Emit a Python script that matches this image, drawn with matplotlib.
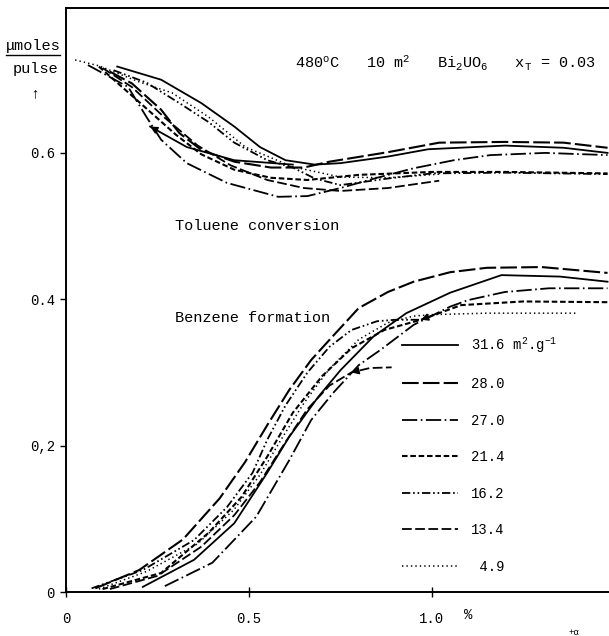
import matplotlib.pyplot as plt
from matplotlib.lines import Line2D

plt.rcParams['font.family'] = ['Liberation Mono', 'DejaVu Sans Mono']
plt.rcParams['mathtext.fontset'] = 'custom'
plt.rcParams['mathtext.rm'] = 'Liberation Mono'
plt.rcParams['mathtext.it'] = 'Liberation Mono'
plt.rcParams['lines.scale_dashes'] = False

# specific surface areas (m2/g) of the catalysts
labels = ["31.6 m$^\\mathregular{2}$.g$^\\mathregular{-1}$", "28.0", "27.0",
          "21.4", "16.2", "13.4", " 4.9"]

# toluene conversion, umoles/pulse vs alpha (%)
tol_x_316 = [0.14, 0.26, 0.37, 0.46, 0.53, 0.60, 0.68, 0.75, 0.88, 0.99, 1.20, 1.36, 1.48]
tol_y_316 = [0.718, 0.700, 0.668, 0.636, 0.608, 0.590, 0.584, 0.586, 0.595, 0.605, 0.610, 0.607, 0.600]
tol_x_316b = [0.23, 0.33, 0.46, 0.62]
tol_y_316b = [0.636, 0.608, 0.590, 0.584]
tol_x_280 = [0.12, 0.18, 0.26, 0.31, 0.37, 0.46, 0.56, 0.65, 0.72, 0.88, 1.02, 1.20, 1.36, 1.48]
tol_y_280 = [0.711, 0.695, 0.659, 0.627, 0.604, 0.588, 0.580, 0.580, 0.588, 0.601, 0.614, 0.615, 0.614, 0.607]
tol_x_270 = [0.06, 0.17, 0.22, 0.26, 0.33, 0.44, 0.58, 0.66, 0.75, 0.85, 0.95, 1.06, 1.16, 1.31, 1.48]
tol_y_270 = [0.720, 0.690, 0.649, 0.618, 0.586, 0.559, 0.540, 0.541, 0.552, 0.566, 0.579, 0.590, 0.597, 0.600, 0.597]
tol_x_214 = [0.09, 0.21, 0.30, 0.37, 0.46, 0.56, 0.66, 0.80, 1.00, 1.20, 1.48]
tol_y_214 = [0.718, 0.665, 0.625, 0.598, 0.577, 0.566, 0.563, 0.570, 0.574, 0.574, 0.572]
tol_x_162 = [0.13, 0.22, 0.31, 0.39, 0.46, 0.55, 0.62, 0.68, 0.75, 0.88, 1.00, 1.20, 1.48]
tol_y_162 = [0.713, 0.696, 0.668, 0.642, 0.614, 0.590, 0.580, 0.565, 0.556, 0.565, 0.572, 0.573, 0.571]
tol_x_134 = [0.10, 0.18, 0.27, 0.36, 0.45, 0.55, 0.65, 0.75, 0.88, 1.02]
tol_y_134 = [0.716, 0.690, 0.648, 0.610, 0.583, 0.563, 0.552, 0.548, 0.552, 0.562]
tol_x_49 = [0.025, 0.09, 0.20, 0.29, 0.39, 0.49, 0.62, 0.75, 0.88, 1.02]
tol_y_49 = [0.727, 0.719, 0.697, 0.682, 0.649, 0.608, 0.581, 0.567, 0.566, 0.571]

# benzene formation, umoles/pulse vs alpha (%)
ben_x_316 = [0.21, 0.35, 0.46, 0.55, 0.61, 0.69, 0.75, 0.84, 0.93, 1.05, 1.19, 1.35, 1.48]
ben_y_316 = [0.007, 0.044, 0.094, 0.163, 0.212, 0.267, 0.303, 0.349, 0.381, 0.409, 0.433, 0.431, 0.424]
ben_x_280 = [0.08, 0.20, 0.32, 0.42, 0.49, 0.55, 0.61, 0.67, 0.73, 0.80, 0.88, 0.95, 1.05, 1.15, 1.30, 1.48]
ben_y_280 = [0.005, 0.030, 0.072, 0.128, 0.178, 0.228, 0.276, 0.317, 0.350, 0.388, 0.410, 0.424, 0.437, 0.443, 0.444, 0.436]
ben_x_270 = [0.27, 0.40, 0.52, 0.61, 0.67, 0.73, 0.80, 0.86, 0.95, 1.05, 1.10, 1.20, 1.32, 1.48]
ben_y_270 = [0.008, 0.040, 0.103, 0.180, 0.235, 0.272, 0.310, 0.331, 0.365, 0.390, 0.399, 0.410, 0.415, 0.415]
ben_x_214 = [0.10, 0.26, 0.39, 0.48, 0.55, 0.62, 0.70, 0.78, 0.87, 0.97, 1.08, 1.25, 1.48]
ben_y_214 = [0.004, 0.026, 0.081, 0.130, 0.185, 0.245, 0.295, 0.333, 0.358, 0.372, 0.392, 0.397, 0.396]
ben_x_162 = [0.07, 0.21, 0.35, 0.44, 0.51, 0.55, 0.60, 0.66, 0.72, 0.78, 0.85, 0.90, 0.975]
ben_y_162 = [0.005, 0.030, 0.071, 0.116, 0.163, 0.208, 0.255, 0.300, 0.335, 0.358, 0.370, 0.372, 0.372]
ben_x_134 = [0.12, 0.25, 0.37, 0.46, 0.53, 0.60, 0.66, 0.72, 0.78, 0.83, 0.89]
ben_y_134 = [0.004, 0.022, 0.062, 0.105, 0.150, 0.205, 0.250, 0.282, 0.300, 0.306, 0.307]
ben_x_49 = [0.09, 0.22, 0.36, 0.46, 0.53, 0.59, 0.65, 0.72, 0.80, 0.88, 0.95, 1.00, 1.15, 1.30, 1.40]
ben_y_49 = [0.004, 0.028, 0.066, 0.113, 0.160, 0.210, 0.258, 0.305, 0.345, 0.368, 0.377, 0.379, 0.381, 0.381, 0.381]

styles = [
    dict(ls='-', lw=1.3),
    dict(ls=(0, (12, 3)), lw=1.5),
    dict(ls=(0, (11, 2.5, 1.2, 2.5)), lw=1.3),
    dict(ls=(0, (4, 2)), lw=1.5),
    dict(ls=(0, (6, 2, 1.2, 2, 1.2, 2)), lw=1.3),
    dict(ls=(0, (7, 2.5)), lw=1.3),
    dict(ls=(0, (1, 2.2)), lw=1.1),
]

tol = [(tol_x_316, tol_y_316), (tol_x_280, tol_y_280), (tol_x_270, tol_y_270),
       (tol_x_214, tol_y_214), (tol_x_162, tol_y_162), (tol_x_134, tol_y_134),
       (tol_x_49, tol_y_49)]
ben = [(ben_x_316, ben_y_316), (ben_x_280, ben_y_280), (ben_x_270, ben_y_270),
       (ben_x_214, ben_y_214), (ben_x_162, ben_y_162), (ben_x_134, ben_y_134),
       (ben_x_49, ben_y_49)]

fig = plt.figure(figsize=(6.09, 6.36), dpi=100)
ax = fig.add_axes([66 / 609, 44 / 636, 543 / 609, 584 / 636])

handles = []
for (tx, ty), (bx, by), st, lab in zip(tol, ben, styles, labels):
    ax.plot(tx, ty, color='black', **st)
    h, = ax.plot(bx, by, color='black', label=lab, **st)
    handles.append(h)
ax.plot(tol_x_316b, tol_y_316b, color='black', **styles[0])


def arrow_head(xs, ys, i, j):
    # filled head at point i, pointing away from neighbour j
    x0, y0 = xs[i], ys[i]
    x1 = x0 + 0.2 * (xs[j] - x0)
    y1 = y0 + 0.2 * (ys[j] - y0)
    ax.annotate('', xy=(x0, y0), xytext=(x1, y1),
                arrowprops=dict(arrowstyle='-|>', color='black', lw=1,
                                shrinkA=0, shrinkB=0, mutation_scale=11))


arrow_head(tol_x_316b, tol_y_316b, 0, 1)
arrow_head(ben_x_214, ben_y_214, 9, 10)
arrow_head(ben_x_134, ben_y_134, 8, 9)

ax.set_xlim(0, 1.484)
ax.set_ylim(0, 0.798)
ax.spines['right'].set_visible(False)
for s in ['left', 'bottom', 'top']:
    ax.spines[s].set_linewidth(1.4)

ax.set_xticks([0, 0.5, 1.0])
ax.set_xticklabels(['0', '0.5', '1.0'])
ax.set_yticks([0, 0.2, 0.4, 0.6])
ax.set_yticklabels(['0', '0,2', '0.4', '0.6'])
ax.tick_params(axis='x', direction='inout', length=7, width=1, pad=11, labelsize=10)
ax.tick_params(axis='y', direction='out', length=4, width=1, pad=4, labelsize=10)

ax.text(1.098, -0.032, '%', fontsize=10, ha='center', va='center')
ax.text(1.388, -0.055, '+\u03b1', fontsize=6.5, ha='center', va='center')

ax.text(0.626, 0.723,
        '480$^\\mathregular{o}$C   10 m$^\\mathregular{2}$   '
        'Bi$_\\mathregular{2}$UO$_\\mathregular{6}$   x$_\\mathregular{T}$ = 0.03',
        fontsize=11, ha='left', va='center')
ax.text(0.298, 0.500, 'Toluene conversion', fontsize=11, ha='left', va='center')
ax.text(0.298, 0.374, 'Benzene formation', fontsize=11, ha='left', va='center')

# y axis caption: umoles / pulse with an upward arrow
fig.text(33 / 609, 1 - 46 / 636, '\u03bcmoles', fontsize=11, ha='center', va='center')
fig.add_artist(Line2D([6 / 609, 60 / 609], [1 - 55 / 636, 1 - 55 / 636],
                      color='black', lw=1))
fig.text(35 / 609, 1 - 69 / 636, 'pulse', fontsize=11, ha='center', va='center')
fig.text(35 / 609, 1 - 93 / 636, '\u2191', fontsize=11, ha='center', va='center')

ax.legend(handles=handles, loc='upper left', bbox_to_anchor=(0.619, 0.44),
          frameon=False, fontsize=10, handlelength=4.0, handletextpad=0.95,
          labelspacing=1.62, borderpad=0, borderaxespad=0)

fig.savefig('out.png', dpi=100)
